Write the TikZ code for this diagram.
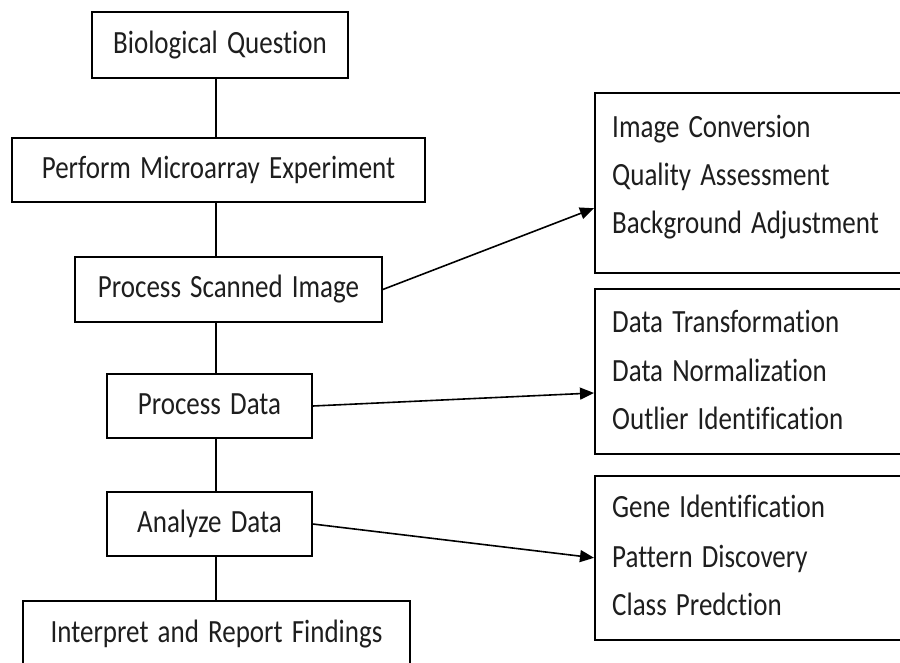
\documentclass[tikz,border=0pt]{standalone}
\usepackage{fontspec}
\setmainfont{Carlito}[Ligatures=NoCommon, WordSpace=1.5]
\usetikzlibrary{arrows.meta,calc}
\newcommand\tall[1]{\scalebox{1}[1.2]{#1}}
\definecolor{ink}{HTML}{1E1E1E}
\begin{document}
\begin{tikzpicture}[x=1pt,y=-1pt,
  stage/.style={draw, line width=1.6pt, rectangle, inner sep=0pt,
    text height=22pt, text depth=6pt, text=ink,
    font=\fontsize{27}{31}\selectfont},
  group/.style={draw, line width=1.6pt, rectangle, inner sep=0pt,
    anchor=north west},
  item/.style={anchor=base west, inner sep=0pt, text=ink,
    font=\fontsize{27}{31}\selectfont},
  link/.style={line width=1.6pt},
  arr/.style={line width=1.6pt, -{Triangle[length=14pt,width=12pt]}}]
\clip (0,0) rectangle (900,662);
\fill[white] (0,0) rectangle (900,662);

% main workflow
\node[stage, minimum width=256pt, minimum height=66pt] (b1) at (220,45) {\tall{Biological Question}};
\node[stage, minimum width=413pt, minimum height=64pt] (b2) at (218.5,170) {\tall{Perform Microarray Experiment}};
\node[stage, minimum width=307pt, minimum height=65pt] (b3) at (228.5,289.5) {\tall{Process Scanned Image}};
\node[stage, minimum width=205pt, minimum height=64pt] (b4) at (209.5,406) {\tall{Process Data}};
\node[stage, minimum width=205pt, minimum height=64pt] (b5) at (209.5,524) {\tall{Analyze Data}};
\node[stage, minimum width=387pt, minimum height=66pt] (b6) at (216.5,634) {\tall{Interpret and Report Findings}};

\coordinate (spine) at (216,0);
\draw[link] (b1.south -| spine) -- (b2.north -| spine);
\draw[link] (b2.south -| spine) -- (b3.north -| spine);
\draw[link] (b3.south -| spine) -- (b4.north -| spine);
\draw[link] (b4.south -| spine) -- (b5.north -| spine);
\draw[link] (b5.south -| spine) -- (b6.north -| spine);

% detail groups
\node[group, minimum width=330pt, minimum height=180pt] (gA) at (594,92) {};
\node[group, minimum width=330pt, minimum height=165pt] (gB) at (594,288) {};
\node[group, minimum width=330pt, minimum height=164pt] (gC) at (594,475) {};

\node[item] (a1) at ($(gA.north west)+(18,45)$) {\tall{Image Conversion}};
\node[item] (a2) at ($(gA.north west)+(18,93)$) {\tall{Quality Assessment}};
\node[item] (a3) at ($(gA.north west)+(18,141)$) {\tall{Background Adjustment}};

\node[item] (c1) at ($(gB.north west)+(18,44)$) {\tall{Data Transformation}};
\node[item] (c2) at ($(gB.north west)+(18,93)$) {\tall{Data Normalization}};
\node[item] (c3) at ($(gB.north west)+(18,141)$) {\tall{Outlier Identification}};

\node[item] (d1) at ($(gC.north west)+(18,42)$) {\tall{Gene Identification}};
\node[item] (d2) at ($(gC.north west)+(18,92)$) {\tall{Pattern Discovery}};
\node[item] (d3) at ($(gC.north west)+(18,140)$) {\tall{Class Predction}};

\draw[arr] (b3.east) -- ($(gA.north west)!0.64!(gA.south west)$);
\draw[arr] (b4.east) -- ($(gB.north west)!0.63!(gB.south west)$);
\draw[arr] (b5.east) -- ($(gC.north west)!0.5!(gC.south west)$);
\end{tikzpicture}
\end{document}
